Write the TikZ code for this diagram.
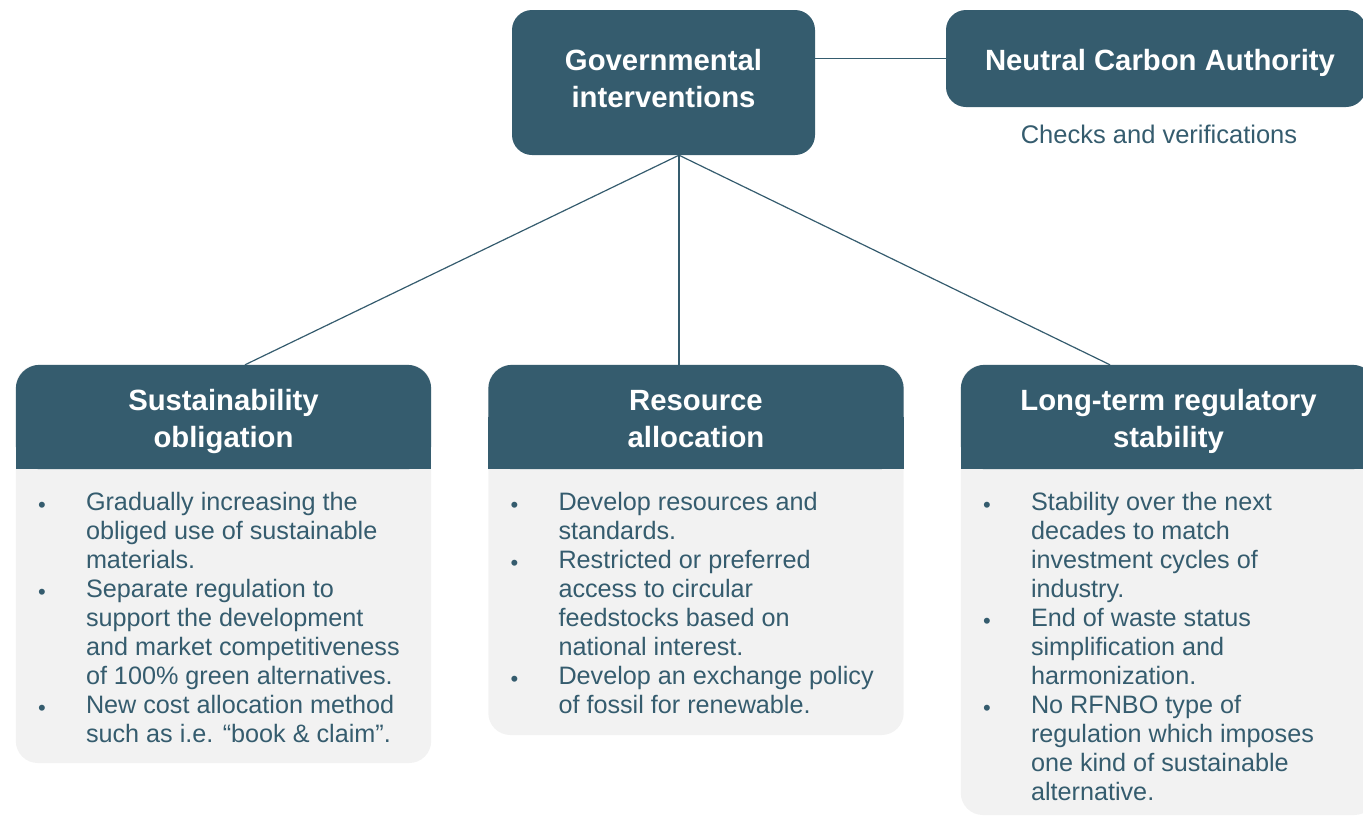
\documentclass[tikz,border=0pt]{standalone}
\usepackage{fontspec}
\setmainfont{Liberation Sans}
\usetikzlibrary{calc,backgrounds}
\definecolor{petrol}{HTML}{355C6E}
\definecolor{panelgray}{HTML}{F2F2F2}
% bullet and hanging continuation for the body lists
\newcommand{\bl}{\makebox[48pt][l]{\raisebox{-1.4pt}{\fontsize{22}{22}\selectfont\textbullet}}}
\newcommand{\cl}{\hspace*{48pt}}
\newcommand{\hs}{\strut}
\begin{document}
\begin{tikzpicture}[x=1pt,y=-1pt,
  topbox/.style={fill=petrol, rounded corners=20pt, inner sep=0pt},
  head/.style={minimum width=415pt, minimum height=104pt, inner sep=0pt},
  headtext/.style={text=white, font=\fontsize{29.3}{37}\selectfont\bfseries,
    align=center, inner sep=0pt},
  bodytext/.style={text=petrol, font=\fontsize{25.2}{29}\selectfont, align=left,
    anchor=north west, inner sep=0pt},
  link/.style={draw=petrol, line width=1.2pt}]
\useasboundingbox (0,0) rectangle (1363,817);

% upper row
\node[topbox, minimum width=303pt, minimum height=145pt] (gov) at (663.5,82.5) {};
\node[headtext] (govt) at ($(gov.center)+(0,-1.4)$) {\hs Governmental\\\hs interventions};
\node[topbox, minimum width=420pt, minimum height=97pt] (nca) at (1156,58.5) {};
\node[headtext] (ncat) at (1160,62.6) {\hs Neutral Carbon Authority};
\node[text=petrol, font=\fontsize{25.5}{29}\selectfont, inner sep=0pt] (chk) at (1159,134)
  {Checks and verifications};

% column headers
\node[head] (sus) at (223.5,417) {};
\node[head] (res) at (696,417) {};
\node[head] (lts) at (1168.5,417) {};
\node[headtext] (sust) at ($(sus.center)+(0,4.1)$) {\hs Sustainability\\\hs obligation};
\node[headtext] (rest) at ($(res.center)+(0,4.1)$) {\hs Resource\\\hs allocation};
\node[headtext] (ltst) at ($(lts.center)+(0,4.1)$) {\hs Long-term regulatory\\\hs stability};

% panels behind the headers
\begin{pgfonlayer}{background}
  \foreach \n/\b in {sus/763, res/735, lts/815}{
    \fill[panelgray, rounded corners=22pt] (\n.north west) rectangle (\n.east |- 0,\b);
    \fill[petrol, rounded corners=24pt] (\n.north west) rectangle (\n.south east);
    \fill[petrol] (\n.west) rectangle (\n.south east);
  }
\end{pgfonlayer}

% connectors
\coordinate (hub) at ($(gov.south)+(15.5,0)$);
\draw[link] (gov.east |- nca.west) -- (nca.west);
\draw[link] (hub) -- ($(sus.north)+(21.5,0)$);
\draw[link] (hub) -- ($(res.north)+(-17,0)$);
\draw[link] (hub) -- ($(lts.north)+(-58.5,0)$);

% list contents
\node[bodytext] (susl) at ($(sus.south west)+(22,23)$) {%
  \bl Gradually increasing the\\
  \cl obliged use of sustainable\\
  \cl materials.\\
  \bl Separate regulation to\\
  \cl support the development\\
  \cl and market competitiveness\\
  \cl of 100\% green alternatives.\\
  \bl New cost allocation method\\
  \cl such as i.e. “book \& claim”.};
\node[bodytext] (resl) at ($(res.south west)+(22,23)$) {%
  \bl Develop resources and\\
  \cl standards.\\
  \bl Restricted or preferred\\
  \cl access to circular\\
  \cl feedstocks based on\\
  \cl national interest.\\
  \bl Develop an exchange policy\\
  \cl of fossil for renewable.};
\node[bodytext] (ltsl) at ($(lts.south west)+(22,23)$) {%
  \bl Stability over the next\\
  \cl decades to match\\
  \cl investment cycles of\\
  \cl industry.\\
  \bl End of waste status\\
  \cl simplification and\\
  \cl harmonization.\\
  \bl No RFNBO type of\\
  \cl regulation which imposes\\
  \cl one kind of sustainable\\
  \cl alternative.};
\end{tikzpicture}
\end{document}
